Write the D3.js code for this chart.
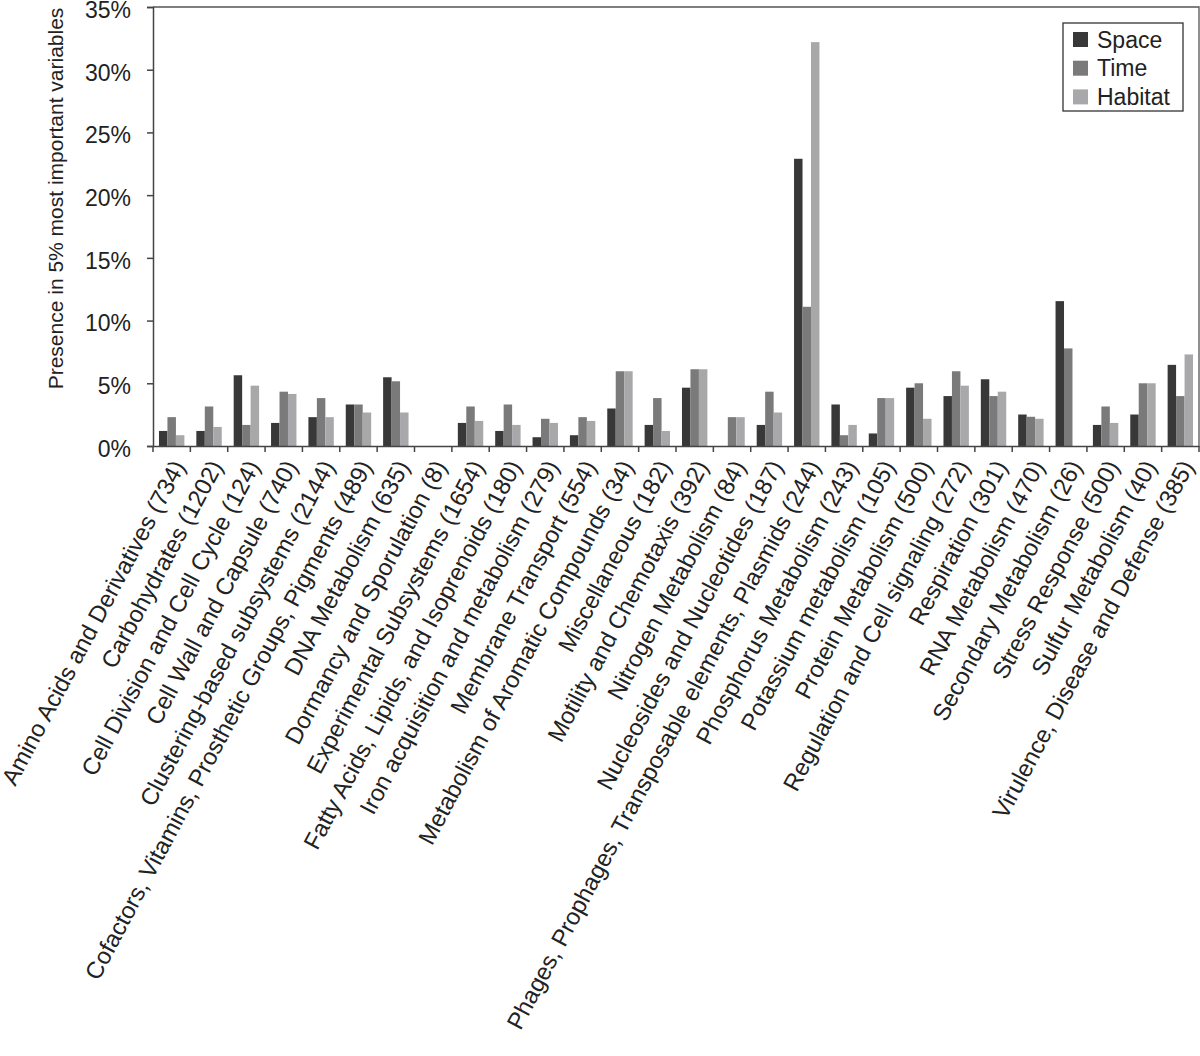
<!DOCTYPE html>
<html>
<head>
<meta charset="utf-8">
<script src="https://cdn.jsdelivr.net/npm/d3@7"></script>
<style>
  html, body { margin: 0; padding: 0; background: #fff; }
  svg { display: block; font-family: "Liberation Sans", Arial, sans-serif; }
</style>
</head>
<body>
<svg id="chart" width="1200" height="1056"></svg>
<script>
const categories = [
  "Amino Acids and Derivatives (734)",
  "Carbohydrates (1202)",
  "Cell Division and Cell Cycle (124)",
  "Cell Wall and Capsule (740)",
  "Clustering-based subsystems (2144)",
  "Cofactors, Vitamins, Prosthetic Groups, Pigments (489)",
  "DNA Metabolism (635)",
  "Dormancy and Sporulation (8)",
  "Experimental Subsystems (1654)",
  "Fatty Acids, Lipids, and Isoprenoids (180)",
  "Iron acquisition and metabolism (279)",
  "Membrane Transport (554)",
  "Metabolism of Aromatic Compounds (34)",
  "Miscellaneous (182)",
  "Motility and Chemotaxis (392)",
  "Nitrogen Metabolism (84)",
  "Nucleosides and Nucleotides (187)",
  "Phages, Prophages, Transposable elements, Plasmids (244)",
  "Phosphorus Metabolism (243)",
  "Potassium metabolism (105)",
  "Protein Metabolism (500)",
  "Regulation and Cell signaling (272)",
  "Respiration (301)",
  "RNA Metabolism (470)",
  "Secondary Metabolism (26)",
  "Stress Response (500)",
  "Sulfur Metabolism (40)",
  "Virulence, Disease and Defense (385)"
];
const seriesNames = ["Space", "Time", "Habitat"];
const space   = [1.2, 1.2, 5.64, 1.84, 2.3, 3.31, 5.48, 0, 1.84, 1.2, 0.7, 0.86, 2.99, 1.68, 4.65, 0, 1.68, 22.9, 3.31, 1.0, 4.65, 3.98, 5.32, 2.51, 11.55, 1.68, 2.51, 6.47];
const time    = [2.3, 3.15, 1.68, 4.33, 3.82, 3.31, 5.16, 0, 3.15, 3.31, 2.17, 2.3, 5.96, 3.82, 6.12, 2.3, 4.33, 11.1, 0.86, 3.82, 5.0, 5.96, 3.98, 2.33, 7.78, 3.15, 5.0, 3.98];
const habitat = [0.86, 1.52, 4.81, 4.15, 2.3, 2.67, 2.67, 0, 2.0, 1.68, 1.84, 2.0, 5.96, 1.2, 6.12, 2.3, 2.67, 32.2, 1.68, 3.82, 2.17, 4.81, 4.33, 2.17, 0, 1.84, 5.0, 7.3];
const yTicks = [0, 5, 10, 15, 20, 25, 30, 35];
const yTitle = "Presence in 5% most important variables";
const colors = ["#383838", "#7a7a7a", "#a8a8aa"];

const seriesValues = [space, time, habitat];

const svg = d3.select("#chart");
const mLeft = 153, mRight = 1199, mTop = 7, mBottom = 446;

const x0 = d3.scaleBand().domain(categories).range([mLeft, mRight]).padding(0);
const step = x0.step();
const gap = step * 0.16;
const x1 = d3.scaleBand().domain(seriesNames).range([gap, step - gap]).padding(0);
const y = d3.scaleLinear().domain([0, 35]).range([mBottom, mTop]);

// plot frame (top and right)
svg.append("path")
  .attr("d", `M${mLeft},${mTop}H${mRight}V${mBottom}`)
  .attr("fill", "none").attr("stroke", "#555").attr("stroke-width", 1.3);

// bars
const groups = svg.append("g").selectAll("g")
  .data(categories)
  .join("g")
  .attr("transform", d => `translate(${x0(d)},0)`);

groups.selectAll("rect")
  .data((d, i) => seriesNames.map((s, j) => ({ s, v: seriesValues[j][i], j })))
  .join("rect")
  .attr("x", d => x1(d.s))
  .attr("width", x1.bandwidth())
  .attr("y", d => y(d.v))
  .attr("height", d => y(0) - y(d.v))
  .attr("fill", d => colors[d.j]);

// y axis
const yAxis = svg.append("g")
  .attr("transform", `translate(${mLeft},0)`)
  .call(d3.axisLeft(y).tickValues(yTicks).tickFormat(d => d + "%").tickSize(6).tickPadding(16));
yAxis.select(".domain").attr("stroke", "#444").attr("stroke-width", 1.5);
yAxis.selectAll(".tick line").attr("stroke", "#444").attr("stroke-width", 1.5);
yAxis.selectAll(".tick text")
  .attr("font-size", 23).attr("fill", "#222").attr("dy", "0.45em")
  .attr("font-family", "'Liberation Sans', Arial, sans-serif");

// x axis
const xAxis = svg.append("g")
  .attr("transform", `translate(0,${mBottom})`)
  .call(d3.axisBottom(x0).tickSize(0).tickFormat(""));
xAxis.select(".domain").attr("stroke", "#444").attr("stroke-width", 1.5);
xAxis.selectAll(".tick").remove();

// category boundary ticks
svg.append("g").selectAll("line")
  .data(d3.range(categories.length + 1))
  .join("line")
  .attr("x1", i => mLeft + i * step).attr("x2", i => mLeft + i * step)
  .attr("y1", mBottom).attr("y2", mBottom + 6)
  .attr("stroke", "#444").attr("stroke-width", 1.5);

// category labels
svg.append("g").selectAll("text")
  .data(categories)
  .join("text")
  .attr("transform", d => `translate(${x0(d) + step / 2 + 7},${mBottom + 16}) rotate(-62)`)
  .attr("text-anchor", "end")
  .attr("dy", "0.35em")
  .attr("font-size", 23.8)
  .attr("fill", "#222")
  .text(d => d);

// y title
svg.append("text")
  .attr("transform", `translate(63,${(mTop + 390) / 2}) rotate(-90)`)
  .attr("text-anchor", "middle")
  .attr("font-size", 21)
  .attr("fill", "#222")
  .text(yTitle);

// legend
const lg = svg.append("g").attr("transform", "translate(1063,23)");
lg.append("rect").attr("width", 120).attr("height", 88)
  .attr("fill", "#fff").attr("stroke", "#333").attr("stroke-width", 1.3);
const items = lg.selectAll("g.item").data(seriesNames).join("g")
  .attr("class", "item")
  .attr("transform", (d, i) => `translate(10,${9 + i * 28.7})`);
items.append("rect").attr("width", 15).attr("height", 15).attr("fill", (d, i) => colors[i]);
items.append("text").attr("x", 24).attr("y", 7.5).attr("dy", "0.36em")
  .attr("font-size", 23).attr("fill", "#222").text(d => d);
</script>
</body>
</html>
